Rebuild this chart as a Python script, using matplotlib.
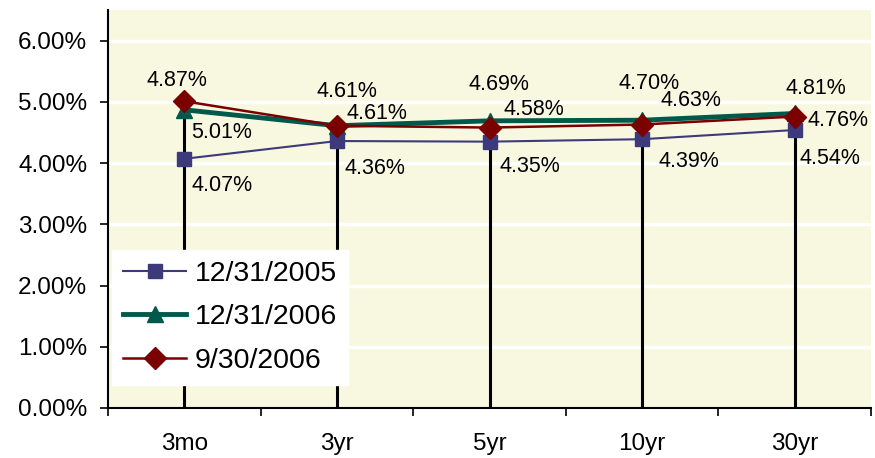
import matplotlib.pyplot as plt
import numpy as np

plt.rcParams['font.family'] = ['Liberation Sans', 'DejaVu Sans']

# Data
maturities = ['3mo', '3yr', '5yr', '10yr', '30yr']
yield_2005_12 = [4.07, 4.36, 4.35, 4.39, 4.54]
yield_2006_12 = [4.87, 4.61, 4.69, 4.70, 4.81]
yield_2006_09 = [5.01, 4.61, 4.58, 4.63, 4.76]

# label offsets in pixels (x, y up)
off_2005_12 = [(7, -27), (8, -27), (10, -25), (16, -22), (5, -28)]
off_2006_12 = [(-7, 29), (10, 34), (9, 36), (7, 37), (21, 25)]
off_2006_09 = [(7, -31), (10, 12), (14, 18), (18, 24), (13, -4)]

PX = 72 / 100  # pixels -> points at dpi 100

fig = plt.figure(figsize=(8.75, 4.58), dpi=100)
ax = fig.add_axes([108 / 875, 50 / 458, 763 / 875, 398 / 458])
ax.set_facecolor('#F8F8E1')

x = np.arange(len(maturities))

# gridlines
for g in range(1, 7):
    ax.axhline(g, color='white', lw=2.5, zorder=1)

# drop lines
tops = np.max([yield_2005_12, yield_2006_12, yield_2006_09], axis=0)
ax.vlines(x, 0, tops, color='black', lw=2.2, zorder=2)

ax.plot(x, yield_2005_12, color='#3C3A7A', lw=1.5, marker='s', markersize=10,
        label='12/31/2005', zorder=3)
ax.plot(x, yield_2006_12, color='#00594A', lw=3.5, marker='^', markersize=12,
        label='12/31/2006', zorder=4)
ax.plot(x, yield_2006_09, color='#7B0000', lw=1.8, marker='D', markersize=11,
        label='9/30/2006', zorder=5)

def label(vals, offs, ha):
    for xi, v, (dx, dy) in zip(x, vals, offs):
        ax.annotate(f'{v:.2f}%', (xi, v), xytext=(dx * PX, dy * PX),
                    textcoords='offset points', ha=ha, va='center',
                    fontsize=15.5, zorder=6)

label(yield_2005_12, off_2005_12, 'left')
label(yield_2006_12, off_2006_12, 'center')
label(yield_2006_09, off_2006_09, 'left')

ax.set_xlim(-0.5, len(maturities) - 0.5)
ax.set_ylim(0, 6.5)
ax.set_yticks(range(0, 7))
ax.set_yticklabels([f'{v:.2f}%' for v in range(0, 7)])
ax.tick_params(axis='y', direction='out', length=6, width=1.2, pad=9,
               labelsize=17.5)

ax.set_xticks(np.arange(-0.5, len(maturities)), minor=False)
ax.set_xticklabels([])
ax.set_xticks(x, minor=True)
ax.set_xticklabels(maturities, minor=True)
ax.tick_params(axis='x', which='major', direction='out', length=6, width=1.2)
ax.tick_params(axis='x', which='minor', length=0, pad=18, labelsize=17.5)

for s in ['top', 'right']:
    ax.spines[s].set_visible(False)
for s in ['left', 'bottom']:
    ax.spines[s].set_linewidth(1.5)
    ax.spines[s].set_zorder(7)

leg = ax.legend(loc='lower left', bbox_to_anchor=(0.005, 0.058),
                borderaxespad=0, frameon=True, fancybox=False,
                fontsize=20.5, handlelength=2.2, handletextpad=0.3,
                labelspacing=0.6, borderpad=0.4)
leg.get_frame().set_facecolor('white')
leg.get_frame().set_edgecolor('white')
leg.get_frame().set_alpha(1)
leg.set_zorder(8)

fig.savefig('out.png', dpi=100, facecolor='white')
